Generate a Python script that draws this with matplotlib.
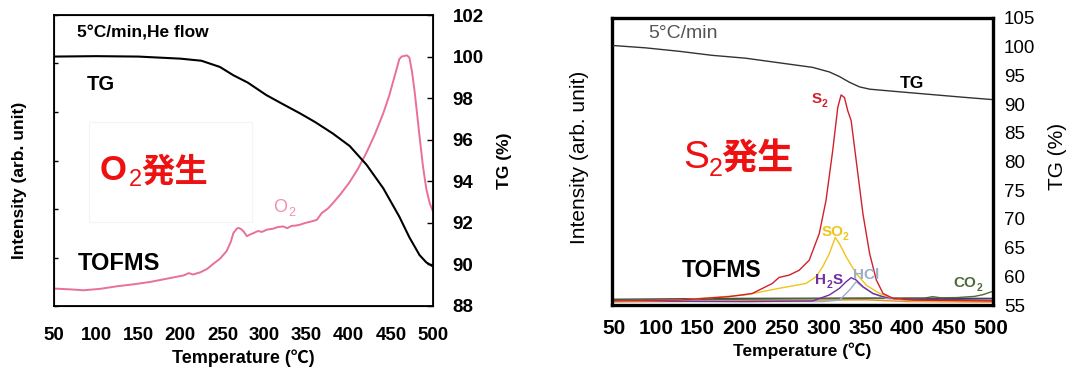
import numpy as np
import matplotlib
matplotlib.use("Agg")
import matplotlib.pyplot as plt
from matplotlib.patches import Rectangle

W, H = 1089, 367

# ---------------- left panel data (O2 evolution) ----------------
tg1_T = [50, 100, 150, 200, 225, 247, 263, 280, 302, 320, 342, 360, 381, 401, 421, 441, 460, 472, 484, 492, 500]
tg1_V = [100.0, 100.02, 100.0, 99.9, 99.8, 99.5, 99.1, 98.75, 98.15, 97.75, 97.27, 96.85, 96.3, 95.7, 94.8, 93.66, 92.3, 91.3, 90.45, 90.1, 89.9]

o2_T = [50, 70, 85, 105, 125, 145, 164, 185, 204, 210, 215, 224, 232, 239, 247, 255, 260, 263, 267, 269, 272,
        275, 279, 283, 287, 292, 297, 303, 310, 316, 322, 327, 332, 337, 342, 348, 355, 362, 368, 375, 381,
        390, 401, 411, 421, 431, 441, 448, 453, 457, 460, 463, 466, 469, 472, 475, 478, 481, 484, 488, 492, 496, 500]
o2_I = [6.1, 5.8, 5.5, 6.0, 6.9, 7.6, 8.4, 9.6, 10.7, 11.5, 11.0, 11.8, 13.0, 14.7, 16.5, 19.2, 22.5, 25.5, 27.0, 27.3, 26.9,
        26.1, 24.4, 25.0, 25.5, 26.2, 25.9, 26.7, 27.0, 27.6, 27.8, 27.2, 28.0, 28.1, 28.4, 29.0, 29.5, 30.1, 32.5, 34.0, 35.9,
        39.0, 43.3, 48.0, 53.6, 60.0, 67.4, 73.5, 78.8, 83.0, 86.3, 87.2, 87.4, 87.6, 86.8, 82.0, 75.4, 67.5, 59.3, 49.0, 41.0, 36.0, 33.0]

# ---------------- right panel data (S2 evolution) ----------------
tg2_T = [50, 88, 128, 167, 207, 247, 287, 307, 319, 331, 343, 355, 386, 426, 466, 500]
tg2_V = [100.2, 99.8, 99.2, 98.5, 98.0, 97.2, 96.4, 95.6, 94.8, 93.8, 93.0, 92.6, 92.2, 91.7, 91.2, 90.8]

s2_T = [50, 128, 187, 215, 239, 247, 259, 271, 283, 295, 303, 311, 317, 321, 325, 329, 333, 339, 347, 355, 363, 371, 383, 407, 500]
s2_I = [1.4, 1.7, 2.9, 4.0, 7.5, 9.6, 10.4, 12.1, 15.6, 24.9, 36.4, 53.8, 68.8, 73.2, 72.3, 67.6, 64.2, 50.3, 31.8, 17.9, 8.7, 4.0, 2.3, 1.7, 1.4]

so2_T = [50, 128, 207, 247, 279, 291, 299, 307, 314, 319, 327, 339, 351, 367, 383, 407, 500]
so2_I = [1.2, 1.7, 3.5, 5.8, 7.5, 9.8, 13.3, 17.9, 23.5, 21.4, 16.8, 11.0, 6.9, 4.0, 2.3, 1.4, 1.2]

h2s_T = [50, 207, 287, 307, 319, 327, 333, 339, 347, 359, 371, 387, 500]
h2s_I = [1.4, 1.2, 1.4, 3.5, 5.8, 8.1, 9.5, 8.7, 6.4, 4.0, 2.9, 2.1, 1.7]

hcl_T = [50, 300, 319, 331, 339, 347, 359, 375, 400, 500]
hcl_I = [1.2, 1.2, 1.7, 5.2, 8.1, 6.2, 4.0, 2.3, 1.6, 1.4]

co2_T = [50, 200, 300, 380, 420, 430, 440, 460, 480, 490, 500]
co2_I = [1.6, 2.0, 2.2, 2.3, 2.4, 2.9, 2.5, 2.6, 3.0, 3.6, 4.6]

base_T = [50, 200, 350, 500]
base_I = [2.0, 2.3, 2.4, 2.3]

org_T = [50, 150, 250, 350, 400, 500]
org_I = [1.1, 1.3, 1.6, 1.8, 1.2, 1.0]

x_ticks = [50, 100, 150, 200, 250, 300, 350, 400, 450, 500]
tg1_ticks = [88, 90, 92, 94, 96, 98, 100, 102]
tg2_ticks = [55, 60, 65, 70, 75, 80, 85, 90, 95, 100, 105]

SANS = "Liberation Sans"
JP = ["Liberation Sans", "Noto Sans CJK JP"]

fig = plt.figure(figsize=(W / 100, H / 100), dpi=100)


def fpos(x, y):
    return x / W, 1 - y / H


def label(x, y, s, size, color="black", weight="normal", family=SANS):
    fig.text(*fpos(x, y), s, fontfamily=family, fontweight=weight, fontsize=size,
             color=color, va="baseline")


# ================= left panel =================
axL = fig.add_axes([54 / W, 1 - 306 / H, (433 - 54) / W, (306 - 15) / H])
axL.add_patch(Rectangle((89 / W, 1 - 222 / H), 163 / W, 100 / H, transform=fig.transFigure,
                        fill=False, edgecolor="#f4f4f4", lw=0.8))
axL.plot(o2_T, o2_I, color="#e8709a", lw=1.4)
axL.set_xlim(50, 500)
axL.set_ylim(0, 100 * 6 / 5.9)
axL.set_yticks(np.linspace(0, 100 * 6 / 5.9, 7))
axL.set_yticklabels([])
axL.tick_params(axis="y", direction="in", length=3, width=1)
axL.set_xticks(x_ticks)
axL.tick_params(axis="x", length=0, pad=15)
for lab in axL.get_xticklabels():
    lab.set_fontfamily(SANS)
    lab.set_fontweight("bold")
    lab.set_fontsize(13.5)
for sp in axL.spines.values():
    sp.set_linewidth(1.3)
axL.set_xlabel("Temperature (℃)", fontfamily=JP, fontweight="bold", fontsize=13, labelpad=4)
axL.set_ylabel("Intensity (arb. unit)", fontfamily=SANS, fontweight="bold", fontsize=12.5)
axL.yaxis.set_label_coords((27 - 54) / 379, 0.43)

axL2 = axL.twinx()
axL2.plot(tg1_T, tg1_V, color="black", lw=1.5)
axL2.set_ylim(88, 102)
axL2.set_yticks(tg1_ticks)
axL2.tick_params(axis="y", direction="in", length=4, width=1, pad=14)
for lab in axL2.get_yticklabels():
    lab.set_fontfamily(SANS)
    lab.set_fontweight("bold")
    lab.set_fontsize(13.5)
axL2.set_ylabel("TG (%)", fontfamily=SANS, fontweight="bold", fontsize=12.5)
axL2.yaxis.set_label_coords((497 - 54) / 379, (306 - 161) / 291)

label(77, 38, "5°C/min,He flow", 12.5, weight="bold")
label(87, 90, "TG", 14.5, weight="bold")
label(78, 270, "TOFMS", 17, weight="bold")
label(273, 212, "O", 13, color="#f090b0")
label(288, 216, "2", 9, color="#f090b0")
label(100, 180, "O", 25, color="#ee1111", weight="bold")
label(129, 186, "2", 17, color="#ee1111")
label(141, 182, "発生", 24, color="#ee1111", weight="bold", family=JP)

# ================= right panel =================
axR = fig.add_axes([612 / W, 1 - 305 / H, (993 - 612) / W, (305 - 18) / H])
axR.plot(org_T, org_I, color="#f08a20", lw=1.0)
axR.plot(base_T, base_I, color="#404040", lw=1.0)
axR.plot(co2_T, co2_I, color="#4f6b3a", lw=1.0)
axR.plot(hcl_T, hcl_I, color="#9cadca", lw=1.0)
axR.plot(h2s_T, h2s_I, color="#7030a0", lw=1.0)
axR.plot(so2_T, so2_I, color="#f0c419", lw=1.0)
axR.plot(s2_T, s2_I, color="#d0202e", lw=1.0)
axR.set_xlim(48, 502)
axR.set_ylim(0, 100)
axR.set_yticks([])
axR.set_xticks(x_ticks)
axR.tick_params(axis="x", length=0, pad=10)
for lab in axR.get_xticklabels():
    lab.set_fontfamily(SANS)
    lab.set_fontweight("bold")
    lab.set_fontsize(15)
for sp in axR.spines.values():
    sp.set_linewidth(2.4)
axR.set_xlabel("Temperature (℃)", fontfamily=JP, fontweight="bold", fontsize=12.5, labelpad=3)
axR.set_ylabel("Intensity (arb. unit)", fontfamily=SANS, fontsize=15)
axR.yaxis.set_label_coords((589 - 612) / 381, (305 - 157) / 287)

axR2 = axR.twinx()
axR2.plot(tg2_T, tg2_V, color="#333333", lw=1.0)
axR2.set_ylim(55, 105)
axR2.set_yticks(tg2_ticks)
axR2.tick_params(axis="y", length=0, pad=8)
for lab in axR2.get_yticklabels():
    lab.set_fontfamily(SANS)
    lab.set_fontsize(13.5)
axR2.set_ylabel("TG (%)", fontfamily=SANS, fontsize=15)
axR2.yaxis.set_label_coords((1048 - 612) / 381, (305 - 156) / 287)

label(648, 38, "5°C/min", 14, color="#555555")
label(900, 88, "TG", 12.5, weight="bold")
label(812, 103, "S", 11, color="#d0202e", weight="bold")
label(822, 107, "2", 7.5, color="#d0202e", weight="bold")
label(822, 236, "SO", 11, color="#f0c419", weight="bold")
label(843, 240, "2", 7.5, color="#f0c419", weight="bold")
label(815, 284, "H", 11, color="#7030a0", weight="bold")
label(827, 288, "2", 7.5, color="#7030a0", weight="bold")
label(833, 284, "S", 11, color="#7030a0", weight="bold")
label(853, 279, "HCl", 11, color="#9cadca", weight="bold")
label(953, 287, "CO", 11, color="#4f6b3a", weight="bold")
label(977, 291, "2", 7.5, color="#4f6b3a", weight="bold")
label(682, 277, "TOFMS", 16.5, weight="bold")
label(683, 168, "S", 28, color="#ee1111")
label(709, 176, "2", 18, color="#ee1111")
label(721, 170, "発生", 26, color="#ee1111", weight="bold", family=JP)

fig.savefig("out.png", dpi=100)
